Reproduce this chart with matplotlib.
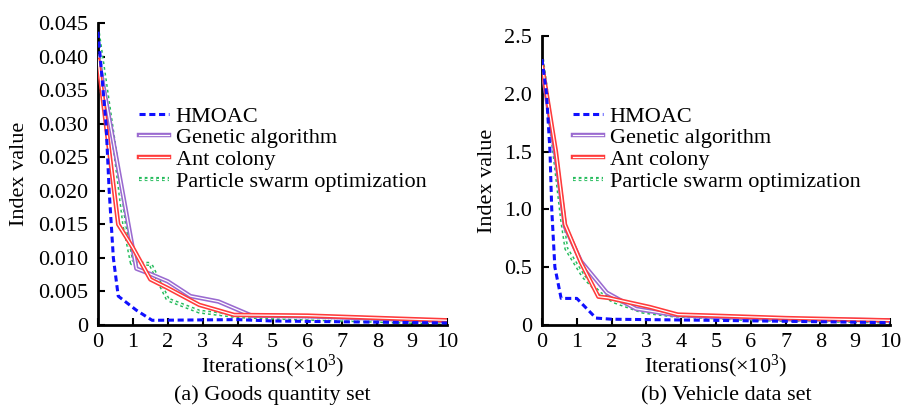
import matplotlib
matplotlib.use("Agg")
import matplotlib.pyplot as plt
import matplotlib.patheffects as pe
from matplotlib.ticker import FixedLocator, FixedFormatter

plt.rcParams['font.family'] = ['Liberation Serif', 'DejaVu Serif']
plt.rcParams['mathtext.fontset'] = 'custom'
plt.rcParams['mathtext.rm'] = 'Liberation Serif'
plt.rcParams['mathtext.it'] = 'Liberation Serif:italic'

series_names = ["HMOAC", "Genetic algorithm", "Ant colony", "Particle swarm optimization"]

# (a) Goods quantity set  (x in thousands of iterations)
a_hmoac_x = [0, 0.23, 0.32, 0.44, 0.58, 1.1, 1.55, 4, 5, 10]
a_hmoac_y = [0.0437, 0.030, 0.020, 0.010, 0.0043, 0.0022, 0.0007, 0.0008, 0.0006, 0.0003]
a_ga_x = [0, 1.1, 1.5, 2.0, 2.65, 3.45, 4.4, 6, 10]
a_ga_y = [0.0400, 0.0084, 0.0076, 0.0065, 0.0043, 0.0035, 0.0014, 0.0013, 0.0006]
a_ac_x = [0, 0.58, 1.0, 1.5, 2.0, 2.9, 3.9, 6, 10]
a_ac_y = [0.0395, 0.0150, 0.0115, 0.0068, 0.0055, 0.0030, 0.0015, 0.0014, 0.0007]
a_pso_x = [0, 0.5, 0.75, 0.97, 1.5, 2.0, 2.9, 4, 5, 10]
a_pso_y = [0.0435, 0.0255, 0.015, 0.0092, 0.0091, 0.0038, 0.0020, 0.0013, 0.0011, 0.0003]

# (b) Vehicle data set
b_hmoac_x = [0, 0.13, 0.23, 0.28, 0.37, 0.55, 1.0, 1.55, 2.0, 5, 10]
b_hmoac_y = [2.30, 2.0, 1.5, 1.0, 0.5, 0.23, 0.23, 0.06, 0.05, 0.04, 0.02]
b_ga_x = [0, 0.4, 0.66, 1.12, 1.86, 2.7, 3.8, 5, 7, 10]
b_ga_y = [2.22, 1.45, 0.85, 0.55, 0.28, 0.14, 0.087, 0.07, 0.05, 0.04]
b_ac_x = [0, 0.4, 0.66, 1.12, 1.62, 1.9, 3.1, 3.9, 5, 7, 10]
b_ac_y = [2.25, 1.5, 0.87, 0.54, 0.245, 0.235, 0.155, 0.09, 0.08, 0.06, 0.04]
b_pso_x = [0, 0.35, 0.58, 0.7, 1.19, 1.67, 2.1, 2.9, 3.7, 6, 10]
b_pso_y = [2.30, 1.5, 0.9, 0.66, 0.42, 0.27, 0.20, 0.115, 0.085, 0.05, 0.03]

a_yticks = [0, 0.005, 0.010, 0.015, 0.020, 0.025, 0.030, 0.035, 0.040, 0.045]
a_yticklabels = ["0", "0.005", "0.010", "0.015", "0.020", "0.025", "0.030", "0.035", "0.040", "0.045"]
b_yticks = [0, 0.5, 1.0, 1.5, 2.0, 2.5]
b_yticklabels = ["0", "0.5", "1.0", "1.5", "2.0", "2.5"]
xticks = [0, 1, 2, 3, 4, 5, 6, 7, 8, 9, 10]
xticklabels = [str(t) for t in xticks]

xlabel = "Iterations(×10$^{3}$)"
ylabel = "Index value"
subtitles = ["(a) Goods quantity set", "(b) Vehicle data set"]

BLUE = "#1010ff"
PURPLE = "#9a6ad0"
RED = "#ff3b3b"
GREEN = "#22bb5a"

FS = 16

fig = plt.figure(figsize=(9.03, 4.05), dpi=100)
axA = fig.add_axes([98/903, 80/405, 349/903, 302/405])
axB = fig.add_axes([542/903, 80/405, 348/903, 289/405])


def draw(ax, data, yticks, yticklabels, ymax, leg_anchor, ylab_x):
    (hx, hy), (gx, gy), (cx, cy), (px, py) = data
    ax.plot(hx, hy, color=BLUE, lw=2.2, ls=(0, (2.0, 1.2)), label=series_names[0], zorder=5)
    ax.plot(gx, gy, color="white", lw=0.9, label=series_names[1], zorder=3,
            path_effects=[pe.Stroke(linewidth=3.2, foreground=PURPLE), pe.Normal()])
    ax.plot(cx, cy, color="white", lw=0.9, label=series_names[2], zorder=4,
            path_effects=[pe.Stroke(linewidth=3.2, foreground=RED), pe.Normal()])
    ax.plot(px, py, color="white", lw=0.9, ls=(0, (2.2, 2.4)), label=series_names[3], zorder=2,
            path_effects=[pe.Stroke(linewidth=3.0, foreground=GREEN), pe.Normal()])
    ax.set_xlim(0, 10)
    ax.set_ylim(0, ymax)
    ax.xaxis.set_major_locator(FixedLocator(xticks))
    ax.xaxis.set_major_formatter(FixedFormatter(xticklabels))
    ax.yaxis.set_major_locator(FixedLocator(yticks))
    ax.yaxis.set_major_formatter(FixedFormatter(yticklabels))
    for s in ["top", "right"]:
        ax.spines[s].set_visible(False)
    for s in ["left", "bottom"]:
        ax.spines[s].set_linewidth(2.0)
    ax.tick_params(direction="in", length=5, width=1.5, labelsize=FS)
    ax.tick_params(axis="y", pad=7)
    ax.tick_params(axis="x", pad=6)
    ax.set_xlabel(xlabel, fontsize=FS, labelpad=0)
    ax.set_ylabel(ylabel, fontsize=FS)
    ax.yaxis.set_label_coords(ylab_x, 0.5)
    ax.patch.set_alpha(0)
    ax.legend(loc="upper left", bbox_to_anchor=leg_anchor, frameon=False, fontsize=FS,
              handlelength=1.35, handletextpad=0.3, labelspacing=0.05, borderpad=0,
              borderaxespad=0)


draw(axA, [(a_hmoac_x, a_hmoac_y), (a_ga_x, a_ga_y), (a_ac_x, a_ac_y), (a_pso_x, a_pso_y)],
     a_yticks, a_yticklabels, 0.045, (41/349, (325-106)/302), (29-98)/349)
draw(axB, [(b_hmoac_x, b_hmoac_y), (b_ga_x, b_ga_y), (b_ac_x, b_ac_y), (b_pso_x, b_pso_y)],
     b_yticks, b_yticklabels, 2.5, (31/348, (325-106)/289), (497-542)/348)

fig.text(272/903, 1 - 400/405, subtitles[0], fontsize=FS, ha="center", va="baseline")
fig.text(726/903, 1 - 400/405, subtitles[1], fontsize=FS, ha="center", va="baseline")

fig.savefig("out.png", dpi=100)
